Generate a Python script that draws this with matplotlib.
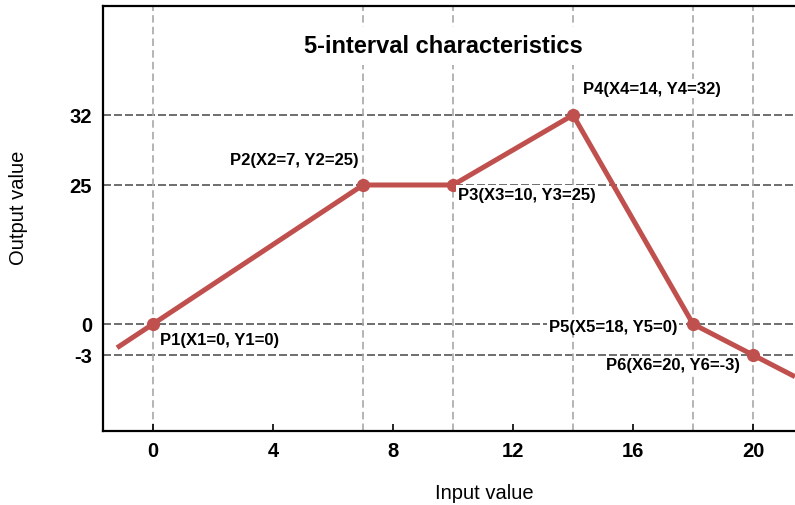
import numpy as np
import matplotlib
matplotlib.use("Agg")
import matplotlib.pyplot as plt

plt.rcParams['font.family'] = ['Liberation Sans', 'DejaVu Sans']

# characteristic points (P1..P6) plus the two open line ends
point_x = [0, 7, 10, 14, 18, 20]
point_y = [0, 25, 25, 32, 0, -3]
line_x = [-1.2, 0, 7, 10, 14, 18, 20, 21.4]
line_y = [-2.3, 0, 25, 25, 32, 0, -3, -5.1]
labels = ["P1(X1=0, Y1=0)", "P2(X2=7, Y2=25)", "P3(X3=10, Y3=25)",
          "P4(X4=14, Y4=32)", "P5(X5=18, Y5=0)", "P6(X6=20, Y6=-3)"]
x_ticks = [0, 4, 8, 12, 16, 20]
y_ticks = [-3, 0, 25, 32]

# the y axis of the sketch is not to scale: piecewise spacing between levels
scale_y = [-20, -3, 0, 25, 32, 60]
scale_s = [-99.6, 76, 107, 246, 316, 596]


def forward(v):
    return np.interp(v, scale_y, scale_s)


def inverse(v):
    return np.interp(v, scale_s, scale_y)


red = '#C0504D'

fig = plt.figure(figsize=(7.95, 5.06), dpi=100)
ax = fig.add_axes([0.1296, 0.1462, 0.8704, 0.84])
ax.set_yscale('function', functions=(forward, inverse))
ax.set_xlim(-1.667, 21.4)
ax.set_ylim(-10.36, 42.9)

# dashed guide lines
for yv in y_ticks:
    ax.axhline(yv, color='#555555', lw=1.2, linestyle=(0, (4.8, 1.8)), zorder=1)
for xv in point_x:
    ax.axvline(xv, color='#a8a8a8', lw=1.2, linestyle=(0, (4.5, 2.5)), zorder=1)

ax.plot(line_x, line_y, color=red, lw=3.6, solid_capstyle='butt', zorder=3)
ax.plot(point_x, point_y, 'o', color=red, markersize=8.5, zorder=4)

offsets = [(5, -11.5, 'left'), (-3, 18, 'right'), (3.6, -6.5, 'left'),
           (7.2, 19, 'left'), (-11.5, -1.5, 'right'), (-9.5, -7, 'right')]
for px, py, lab, (dx, dy, ha) in zip(point_x, point_y, labels, offsets):
    ax.annotate(lab, (px, py), xytext=(dx, dy), textcoords='offset points',
                ha=ha, va='center', fontsize=12, fontweight='bold', zorder=5,
                bbox=dict(boxstyle='square,pad=0.1', fc='white', ec='none'))

ax.text(0.492, 0.906, "5-interval characteristics", transform=ax.transAxes,
        ha='center', va='center', fontsize=17, fontweight='bold', zorder=5,
        bbox=dict(boxstyle='square,pad=0.3', fc='white', ec='none'))

ax.set_xticks(x_ticks)
ax.set_yticks(y_ticks)
ax.set_xticklabels([str(v) for v in x_ticks], fontsize=14.5, fontweight='bold')
ax.set_yticklabels([str(v) for v in y_ticks], fontsize=14.5, fontweight='bold')
ax.tick_params(axis='x', direction='in', length=5, width=1.2, pad=7)
ax.tick_params(axis='y', length=0, pad=8)
ax.yaxis.set_minor_locator(matplotlib.ticker.NullLocator())

for side in ['left', 'bottom', 'top']:
    ax.spines[side].set_linewidth(1.6)
ax.spines['right'].set_visible(False)

fig.text(0.609, 0.025, "Input value", ha='center', va='center', fontsize=14.5)
fig.text(0.023, 0.589, "Output value", ha='center', va='center', fontsize=14.5,
         rotation=90)

fig.savefig('out.png', dpi=100)
